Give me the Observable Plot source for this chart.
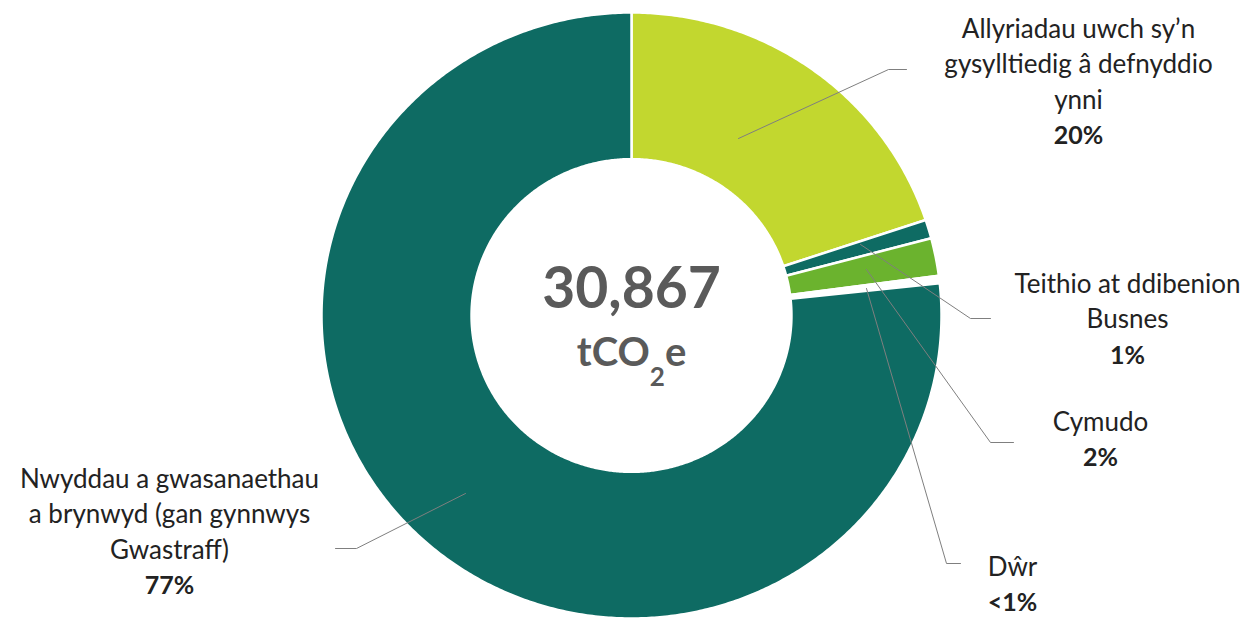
<!DOCTYPE html>
<html>
<head>
<meta charset="utf-8">
<script src="https://cdn.jsdelivr.net/npm/d3@7"></script>
<script src="https://cdn.jsdelivr.net/npm/@observablehq/plot@0.6"></script>
<style>
  html, body { margin: 0; padding: 0; background: #fff; }
  #chart { width: 1252px; height: 619px; }
</style>
</head>
<body>
<div id="chart"></div>
<script>
// ---- data ----
const categories = [
  "Allyriadau uwch sy’n gysylltiedig â defnyddio ynni",
  "Teithio at ddibenion Busnes",
  "Cymudo",
  "Dŵr",
  "Nwyddau a gwasanaethau a brynwyd (gan gynnwys Gwastraff)"
];
const shares = [19.9, 1.0, 2.0, 0.4, 76.7];
const percentLabels = ["20%", "1%", "2%", "<1%", "77%"];
const labelLines = [
  ["Allyriadau uwch sy’n", "gysylltiedig â defnyddio", "ynni"],
  ["Teithio at ddibenion", "Busnes"],
  ["Cymudo"],
  ["Dŵr"],
  ["Nwyddau a gwasanaethau", "a brynwyd (gan gynnwys", "Gwastraff)"]
];
const totalValue = "30,867";
const totalUnit = "tCO2e";

// ---- styles / layout ----
const colors = ["#C2D72F", "#0E6B63", "#6BB32E", "#FFFFFF", "#0E6B63"];
const W = 1252, H = 619;
const cx = 631, cy = 315, rx = 310, ry = 303, innerFrac = 0.516;
const lineGap = 35.5;
const labelAnchors = [ // [x center, first baseline]
  [1078, 37], [1127, 292], [1100, 430], [1012, 575], [169, 487]
];
const leaders = [ // [start, elbow, end]
  [[738, 138], [888, 69], [906, 69]],
  [[860, 244], [970, 318], [990, 318]],
  [[866, 269], [990, 442], [1013, 442]],
  [[866, 288], [946, 563], [960, 563]],
  [[465, 493], [356, 548], [335, 548]]
];

// ---- slice geometry from shares ----
const total = d3.sum(shares);
let acc = 0;
const slicePolys = shares.map((v, i) => {
  const a0 = acc / total * 2 * Math.PI;
  acc += v;
  const a1 = acc / total * 2 * Math.PI;
  const n = Math.max(2, Math.ceil((a1 - a0) / (Math.PI / 360)));
  const pts = [];
  for (let k = 0; k <= n; k++) {
    const a = a0 + (a1 - a0) * k / n;
    pts.push({x: cx + rx * Math.sin(a), y: cy - ry * Math.cos(a)});
  }
  for (let k = n; k >= 0; k--) {
    const a = a0 + (a1 - a0) * k / n;
    pts.push({x: cx + rx * innerFrac * Math.sin(a), y: cy - ry * innerFrac * Math.cos(a)});
  }
  pts.push(pts[0]);
  return {name: categories[i], color: colors[i], pts};
});

// ---- label rows ----
const textRows = [];
const pctRows = [];
labelLines.forEach((lines, i) => {
  const [x, y0] = labelAnchors[i];
  lines.forEach((t, j) => textRows.push({x, y: y0 + j * lineGap, t}));
  pctRows.push({x, y: y0 + lines.length * lineGap, t: percentLabels[i]});
});
const leaderRows = leaders.flatMap((pts, i) => pts.map(([x, y]) => ({x, y, k: i})));

const font = "Lato, 'Open Sans', sans-serif";

const plot = Plot.plot({
  width: W,
  height: H,
  margin: 0,
  x: {domain: [0, W], range: [0, W], axis: null},
  y: {domain: [0, H], range: [0, H], axis: null},
  style: {fontFamily: font, background: "#fff"},
  marks: [
    ...slicePolys.map(s => Plot.line(s.pts, {
      x: "x", y: "y", fill: s.color, stroke: "#fff", strokeWidth: 2.5, curve: "linear"
    })),
    Plot.line(leaderRows, {x: "x", y: "y", z: "k", stroke: "#7f7f7f", strokeWidth: 1}),
    Plot.text(textRows, {x: "x", y: "y", text: "t", lineAnchor: "bottom", textAnchor: "middle",
      fontSize: 26, fill: "#222", ariaLabel: "label"}),
    Plot.text(pctRows, {x: "x", y: "y", text: "t", lineAnchor: "bottom", textAnchor: "middle",
      fontSize: 25, fontWeight: 700, fill: "#222", ariaLabel: "pct"}),
    Plot.text([totalValue], {x: () => cx, y: () => 307, text: d => d, lineAnchor: "bottom",
      textAnchor: "middle", fontSize: 57, fontWeight: 700, fill: "#5a5a5a"}),
    Plot.text([totalUnit], {x: () => cx, y: () => 365, text: d => d, lineAnchor: "bottom",
      textAnchor: "middle", fontSize: 40, fontWeight: 700, fill: "#5a5a5a"})
  ]
});

d3.select(plot).selectAll('g[aria-label="label"] text').style("letter-spacing", "0.55px");

d3.select(plot).selectAll("text").filter(function() { return this.textContent === totalUnit; })
  .each(function() {
    const t = d3.select(this);
    t.text(null);
    t.append("tspan").text("tCO");
    t.append("tspan").attr("dy", 20).attr("font-size", 26).text("2");
    t.append("tspan").attr("dy", -20).text("e");
  });

document.getElementById("chart").appendChild(plot);
</script>
</body>
</html>
